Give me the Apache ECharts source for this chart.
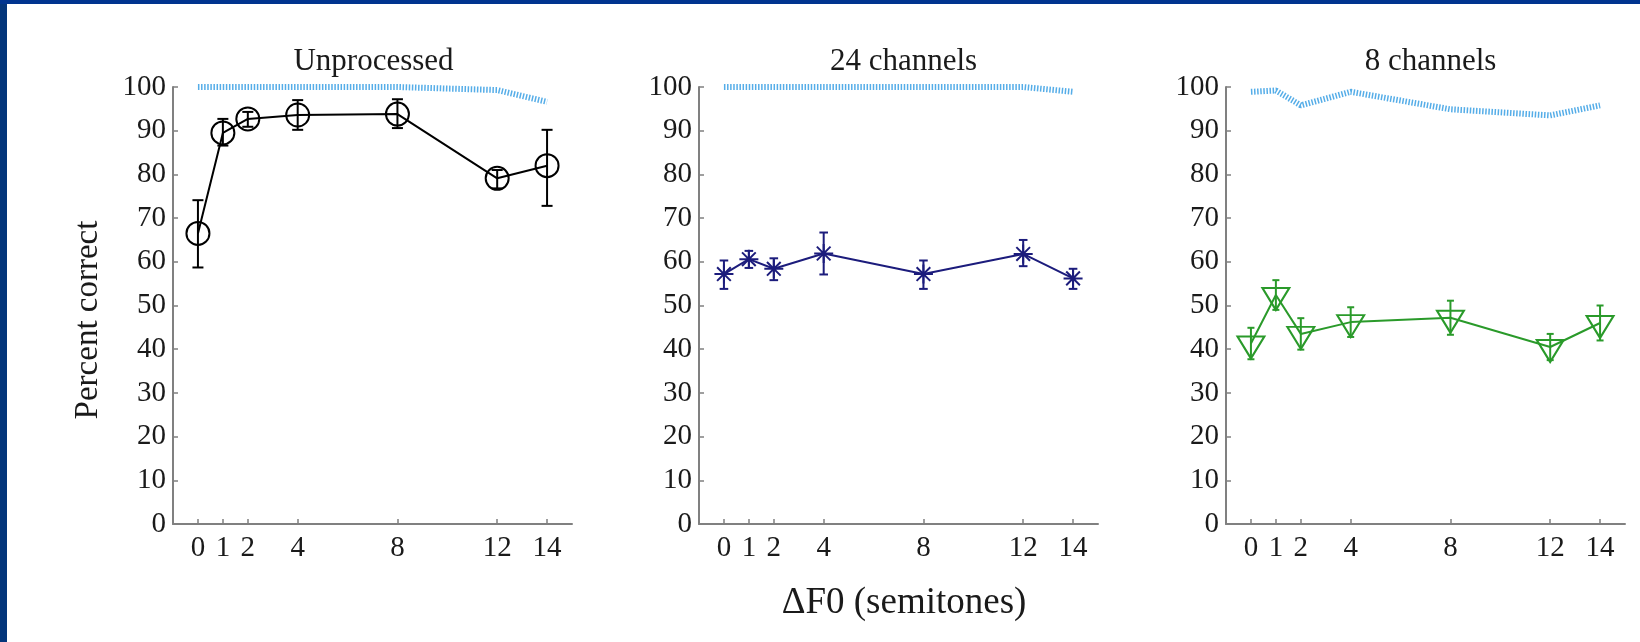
<!DOCTYPE html>
<html>
<head>
<meta charset="utf-8">
<script src="https://cdn.jsdelivr.net/npm/echarts@6/dist/echarts.min.js"></script>
<style>
html, body { margin: 0; padding: 0; background: #fff; }
#main { width: 1640px; height: 642px; }
</style>
</head>
<body>
<div id="main"></div>
<script>
var myChart = echarts.init(document.getElementById('main'));

// semitone separations (x positions and tick labels)
var dF0 = [0, 1, 2, 4, 8, 12, 14];

// Unprocessed
var unprocMean = [66.5, 89.5, 92.7, 93.6, 93.8, 79.1, 82.0];
var unprocLo = [58.7, 86.6, 90.9, 90.2, 90.6, 76.8, 72.8];
var unprocHi = [74.1, 92.7, 94.3, 97.0, 97.2, 81.0, 90.2];
var unprocRef = [100, 100, 100, 100, 100, 99.3, 96.6];

// 24 channels
var ch24Mean = [57.2, 60.6, 58.4, 61.9, 57.2, 61.8, 56.2];
var ch24Lo = [53.8, 58.6, 55.8, 57.1, 53.8, 59.0, 53.8];
var ch24Hi = [60.3, 62.5, 60.8, 66.7, 60.3, 65.0, 58.4];
var ch24Ref = [100, 100, 100, 100, 100, 100, 98.9];

// 8 channels
var ch8Mean = [41.3, 52.4, 43.5, 46.2, 47.2, 40.5, 46.0];
var ch8Lo = [37.7, 49.0, 39.9, 42.8, 43.3, 37.5, 42.0];
var ch8Hi = [44.9, 55.8, 47.1, 49.6, 51.1, 43.5, 50.0];
var ch8Ref = [98.9, 99.2, 95.8, 98.9, 94.9, 93.5, 95.8];

var titles = ['Unprocessed', '24 channels', '8 channels'];

var FONT = 'Liberation Serif';
var axisGrey = '#808080';
var refBlue = '#55ade8';
var asterisk = 'path://M0,-1L0,1M-1,0L1,0M-0.72,-0.72L0.72,0.72M-0.72,0.72L0.72,-0.72';

// grid placement (left, width) for the three panels
var grids = [
    {left: 173, width: 399},
    {left: 699, width: 399},
    {left: 1226, width: 399}
];

function pairs(xs, ys) {
    var out = [];
    for (var k = 0; k < xs.length; k++) out.push([xs[k], ys[k]]);
    return out;
}
function triples(xs, lo, hi) {
    var out = [];
    for (var k = 0; k < xs.length; k++) out.push([xs[k], lo[k], hi[k]]);
    return out;
}

function errorBars(idx, lo, hi, color, cap) {
    return {
        type: 'custom',
        xAxisIndex: idx,
        yAxisIndex: idx,
        data: triples(dF0, lo, hi),
        encode: {x: 0, y: [1, 2]},
        z: 3,
        renderItem: function (params, api) {
            var x = api.value(0);
            var a = api.coord([x, api.value(1)]);
            var b = api.coord([x, api.value(2)]);
            var st = {stroke: color, lineWidth: 2};
            return {
                type: 'group',
                children: [
                    {type: 'line', shape: {x1: a[0], y1: a[1], x2: b[0], y2: b[1]}, style: st},
                    {type: 'line', shape: {x1: a[0] - cap, y1: a[1], x2: a[0] + cap, y2: a[1]}, style: st},
                    {type: 'line', shape: {x1: b[0] - cap, y1: b[1], x2: b[0] + cap, y2: b[1]}, style: st}
                ]
            };
        }
    };
}

function refLine(idx, vals) {
    return {
        type: 'line',
        xAxisIndex: idx,
        yAxisIndex: idx,
        data: pairs(dF0, vals),
        symbol: 'none',
        z: 1,
        lineStyle: {color: refBlue, width: 6, type: [1.5, 1.6], cap: 'butt'}
    };
}

function dataLine(idx, vals, color, sym, size, extra) {
    var s = {
        type: 'line',
        xAxisIndex: idx,
        yAxisIndex: idx,
        data: pairs(dF0, vals),
        symbol: sym,
        symbolSize: size,
        z: 4,
        lineStyle: {color: color, width: 2},
        itemStyle: {color: 'rgba(0,0,0,0)', borderColor: color, borderWidth: 2}
    };
    for (var key in extra) s[key] = extra[key];
    return s;
}

var option = {
    backgroundColor: '#ffffff',
    animation: false,
    title: titles.map(function (t, i) {
        return {
            text: t,
            left: grids[i].left + grids[i].width / 2 - (i === 0 ? 4 : 0),
            top: 41,
            textAlign: 'center',
            textStyle: {fontFamily: FONT, fontSize: 31, fontWeight: 'normal', color: '#1a1a1a'}
        };
    }),
    grid: grids.map(function (g) {
        return {left: g.left, width: g.width, top: 87, height: 437};
    }),
    xAxis: grids.map(function (g, i) {
        return {
            type: 'value',
            gridIndex: i,
            min: -1,
            max: 15,
            name: i === 1 ? '\u0394F0 (semitones)' : '',
            nameLocation: 'middle',
            nameGap: 61,
            nameTextStyle: {fontFamily: FONT, fontSize: 37, color: '#1a1a1a', padding: [0, 0, 0, 11]},
            axisLine: {show: true, onZero: false, lineStyle: {color: axisGrey, width: 2}},
            axisTick: {show: true, inside: true, length: 5, customValues: dF0, lineStyle: {color: axisGrey, width: 1.5}},
            axisLabel: {customValues: dF0, margin: 10, fontFamily: FONT, fontSize: 29, color: '#1a1a1a'},
            splitLine: {show: false}
        };
    }),
    yAxis: grids.map(function (g, i) {
        return {
            type: 'value',
            gridIndex: i,
            min: 0,
            max: 100,
            interval: 10,
            axisLine: {show: true, onZero: false, lineStyle: {color: axisGrey, width: 2}},
            axisTick: {show: true, inside: true, length: 5, lineStyle: {color: axisGrey, width: 1.5}},
            axisLabel: {margin: 7, fontFamily: FONT, fontSize: 29, color: '#1a1a1a', padding: [9, 0, 0, 0]},
            splitLine: {show: false}
        };
    }),
    graphic: [
        {type: 'rect', left: 0, top: 0, shape: {width: 7, height: 642}, style: {fill: '#03357a'}, z: 100},
        {type: 'rect', left: 0, top: 0, shape: {width: 1640, height: 4}, style: {fill: '#00348f'}, z: 100},
        {
            type: 'text',
            x: 88,
            y: 320,
            rotation: Math.PI / 2,
            style: {
                text: 'Percent correct',
                fontFamily: FONT,
                fontSize: 33,
                fill: '#1a1a1a',
                textAlign: 'center',
                textVerticalAlign: 'middle'
            }
        }
    ],
    series: [
        refLine(0, unprocRef),
        errorBars(0, unprocLo, unprocHi, '#000000', 5.5),
        dataLine(0, unprocMean, '#000000', 'circle', 23, {}),

        refLine(1, ch24Ref),
        errorBars(1, ch24Lo, ch24Hi, '#1c1c7c', 4.3),
        dataLine(1, ch24Mean, '#1c1c7c', asterisk, 19, {}),

        refLine(2, ch8Ref),
        errorBars(2, ch8Lo, ch8Hi, '#2a9a2a', 3.5),
        dataLine(2, ch8Mean, '#2a9a2a', 'triangle', [27, 22], {symbolRotate: 180, symbolOffset: [0, 4]})
    ]
};

if (option && typeof option === "object") {
    myChart.setOption(option, true);
}
</script>
</body>
</html>
